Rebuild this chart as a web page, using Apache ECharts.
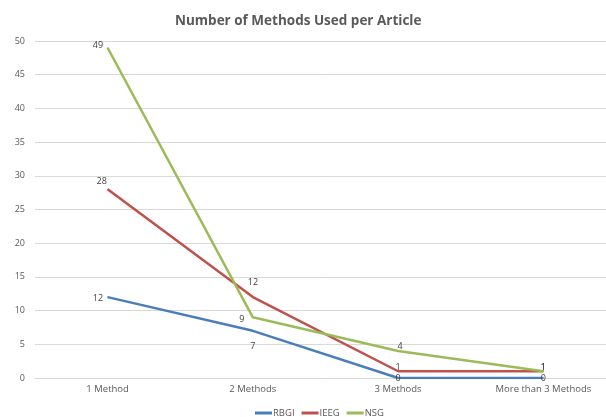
<!DOCTYPE html>
<html>
<head>
<meta charset="utf-8">
<script src="https://cdn.jsdelivr.net/npm/echarts@6/dist/echarts.min.js"></script>
<style>
  html, body { margin: 0; padding: 0; background: #fff; overflow: hidden; }
  #chart { width: 616px; height: 417px; }
</style>
</head>
<body>
<div id="chart"></div>
<script>
// Number of methods used per article, per journal
const categories = ['1 Method', '2 Methods', '3 Methods', 'More than 3 Methods'];
const seriesNames = ['RBGI', 'IEEG', 'NSG'];
const rbgi = [12, 7, 0, 0];
const ieeg = [28, 12, 1, 1];
const nsg = [49, 9, 4, 1];
const yTicks = { min: 0, max: 50, step: 5 };

const colors = ['#4a7ebb', '#c0504d', '#9bbb59'];

// label placement per point
const labelPos = [
  ['left', 'bottom', 'inside', 'inside'],
  ['top', 'top', 'top', 'top'],
  ['left', 'left', 'top', 'top']
];
const labelOffset = [
  [[1, 1], [0, 6], [0, 0], [0, 0]],
  [[-6, 2], [0, -5], [0, 6], [0, 6]],
  [[1, -2], [-3, 2], [2, 5], [0, 6]]
];

function buildData(values, idx) {
  return values.map((v, i) => ({
    value: v,
    label: { position: labelPos[idx][i], offset: labelOffset[idx][i] }
  }));
}

const chart = echarts.init(document.getElementById('chart'));
chart.setOption({
  animation: false,
  title: {
    text: 'Number of Methods Used per Article',
    left: 170,
    top: 9,
    textStyle: { fontFamily: 'Open Sans', fontSize: 13.5, fontWeight: 'bold', color: '#595959' }
  },
  legend: {
    top: 403,
    left: 250,
    itemWidth: 17,
    itemHeight: 3,
    itemGap: 7,
    icon: 'rect',
    textStyle: { fontFamily: 'Open Sans', fontSize: 9.5, color: '#595959', padding: [0, 0, 0, -4] },
    data: seriesNames
  },
  grid: { left: 35, top: 41, bottom: 39, right: 0, containLabel: false },
  xAxis: {
    type: 'category',
    data: categories,
    boundaryGap: true,
    axisLine: { lineStyle: { color: '#d9d9d9' } },
    axisTick: { show: false },
    axisLabel: { color: '#595959', fontFamily: 'Open Sans', fontSize: 9.5, margin: 6 }
  },
  yAxis: {
    type: 'value',
    min: yTicks.min,
    max: yTicks.max,
    interval: yTicks.step,
    axisLine: { show: false },
    axisTick: { show: false },
    splitLine: { lineStyle: { color: '#d9d9d9' } },
    axisLabel: { color: '#595959', fontFamily: 'Open Sans', fontSize: 9, margin: 10 }
  },
  series: [rbgi, ieeg, nsg].map((vals, idx) => ({
    name: seriesNames[idx],
    type: 'line',
    data: buildData(vals, idx),
    color: colors[idx],
    symbol: 'circle',
    symbolSize: 1,
    showSymbol: true,
    itemStyle: { color: colors[idx] },
    lineStyle: { width: 2.5, color: colors[idx] },
    label: {
      show: true,
      color: '#404040',
      fontFamily: 'Open Sans',
      fontSize: 9
    }
  }))
});
</script>
</body>
</html>
